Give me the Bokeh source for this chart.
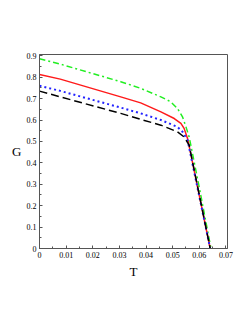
from bokeh.plotting import figure
from bokeh.models import FixedTicker, Range1d
from bokeh.embed import file_html
from bokeh.resources import INLINE

# data
T_green = [0, 0.0078, 0.0305, 0.038, 0.0456, 0.0493, 0.0518, 0.0537, 0.0550, 0.0562, 0.0600, 0.0644]
G_green = [0.886, 0.861, 0.779, 0.748, 0.708, 0.685, 0.654, 0.615, 0.568, 0.521, 0.285, 0.0]

T_red = [0, 0.0078, 0.0305, 0.038, 0.0456, 0.0506, 0.0531, 0.0543, 0.0556, 0.0641]
G_red = [0.813, 0.791, 0.708, 0.680, 0.638, 0.607, 0.584, 0.561, 0.514, 0.0]

T_blue = [0, 0.0078, 0.0305, 0.038, 0.0456, 0.0518, 0.0537, 0.0556, 0.0641]
G_blue = [0.760, 0.736, 0.658, 0.631, 0.600, 0.568, 0.545, 0.506, 0.0]

T_black = [0, 0.0078, 0.0305, 0.038, 0.0456, 0.0518, 0.0543, 0.0562, 0.0641]
G_black = [0.735, 0.708, 0.631, 0.603, 0.576, 0.545, 0.521, 0.483, 0.0]

x_ticks = [0, 0.01, 0.02, 0.03, 0.04, 0.05, 0.06, 0.07]
x_labels = ["0", "0.01", "0.02", "0.03", "0.04", "0.05", "0.06", "0.07"]
y_ticks = [0, 0.1, 0.2, 0.3, 0.4, 0.5, 0.6, 0.7, 0.8, 0.9]
y_labels = ["0", "0.1", "0.2", "0.3", "0.4", "0.5", "0.6", "0.7", "0.8", "0.9"]

FONT = "Liberation Serif"

p = figure(width=243, height=298, output_backend="svg", toolbar_location=None,
           x_range=Range1d(0, 0.0706), y_range=Range1d(0, 0.906),
           min_border_left=39, min_border_top=54, min_border_right=16, min_border_bottom=50)
p.grid.visible = False
p.outline_line_color = "#555555"
p.outline_line_width = 1
p.background_fill_color = "white"
p.border_fill_color = "white"

p.line(T_green, G_green, color="#22ee22", line_width=1.5, line_dash="6 3 2 3")
p.line(T_red, G_red, color="#ff1a1a", line_width=1.5)
p.line(T_blue, G_blue, color="#2222ff", line_width=2, line_dash="2 3")
p.line(T_black, G_black, color="black", line_width=1.5, line_dash="8 4")

p.xaxis.ticker = FixedTicker(ticks=x_ticks, minor_ticks=[0.005 + 0.01 * i for i in range(7)])
p.yaxis.ticker = FixedTicker(ticks=y_ticks, minor_ticks=[0.05 + 0.1 * i for i in range(9)])
p.xaxis.major_label_overrides = {t: l for t, l in zip(x_ticks, x_labels)}
p.yaxis.major_label_overrides = {t: l for t, l in zip(y_ticks, y_labels)}

for ax in (p.xaxis, p.yaxis):
    ax.axis_line_color = "#555555"
    ax.major_tick_line_color = "#555555"
    ax.minor_tick_line_color = "#555555"
    ax.major_tick_in = 3
    ax.major_tick_out = 0
    ax.minor_tick_in = 2
    ax.minor_tick_out = 0
    ax.major_label_text_font = FONT
    ax.major_label_text_font_size = "8px"
    ax.major_label_text_color = "black"
    ax.major_label_standoff = 3
    ax.axis_label_text_font = FONT
    ax.axis_label_text_font_size = "13px"
    ax.axis_label_text_font_style = "normal"
    ax.axis_label_text_color = "black"

p.xaxis.axis_label = "T"
p.xaxis.axis_label_standoff = 3
p.yaxis.axis_label = "G"
p.yaxis.axis_label_orientation = "horizontal"
p.yaxis.axis_label_standoff = 2

open("out.html", "w").write(file_html(p, INLINE))
